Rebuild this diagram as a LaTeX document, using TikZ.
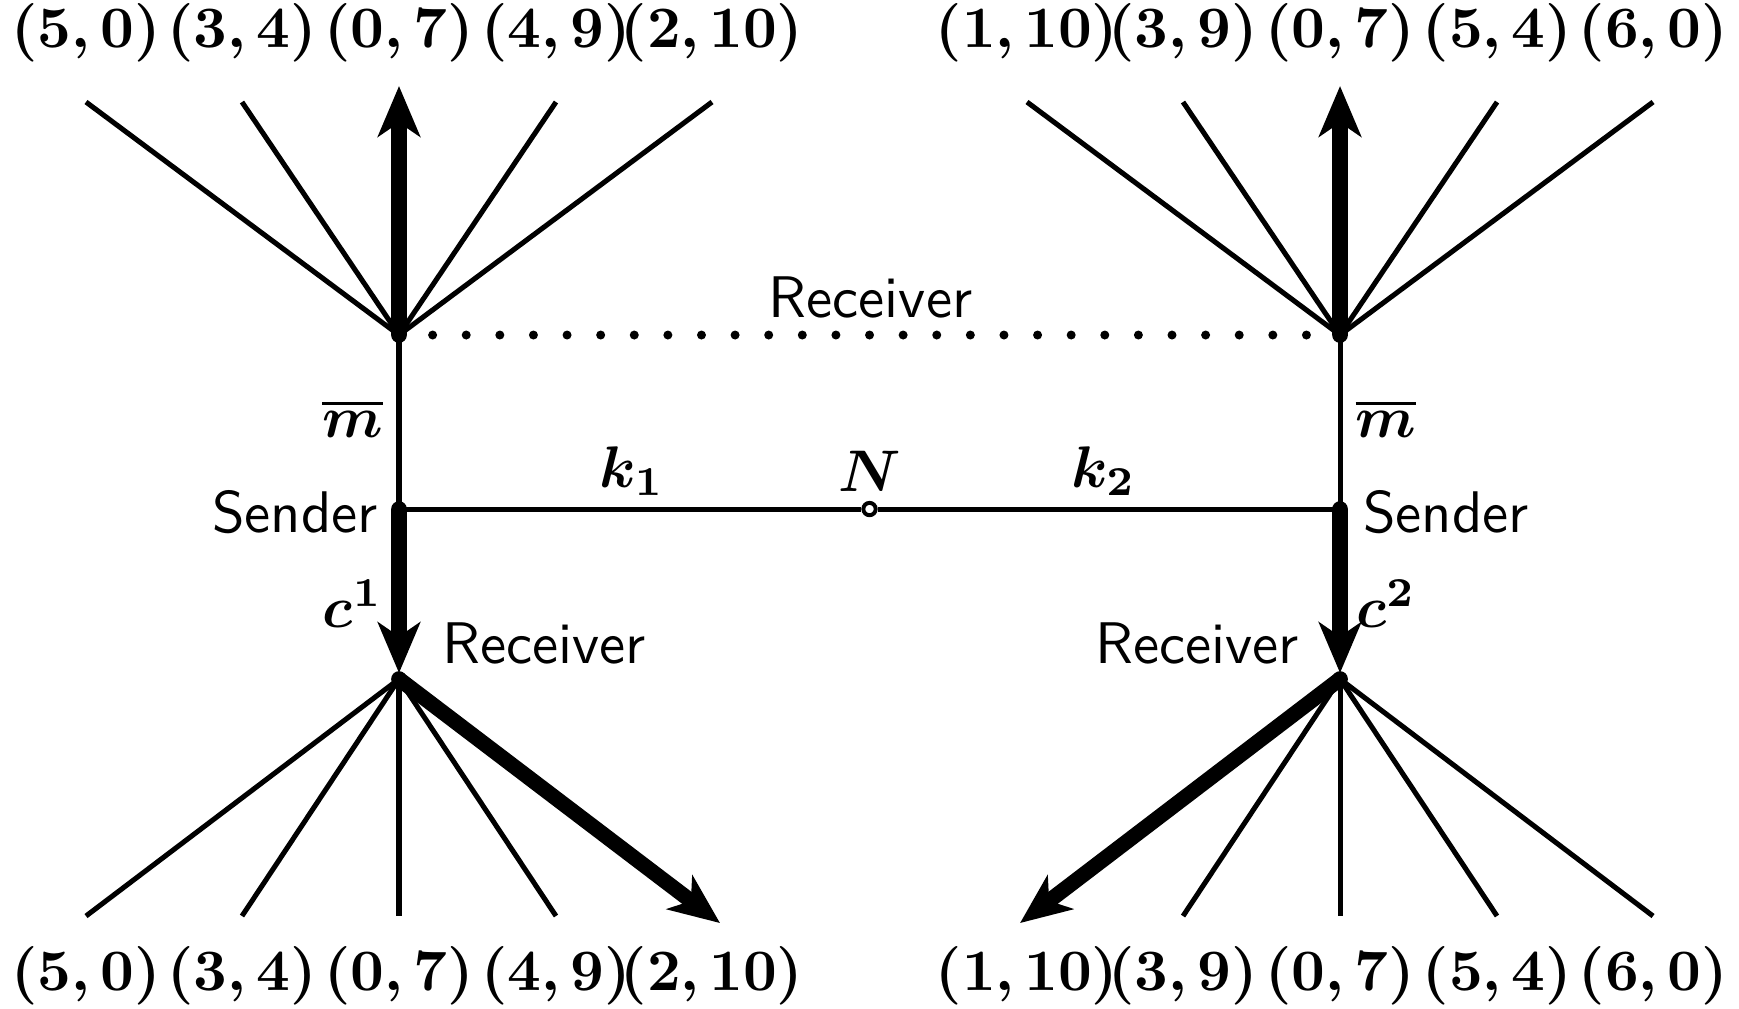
\documentclass[tikz,border=0pt]{standalone}
\usepackage{amsmath,bm}
\usetikzlibrary{arrows.meta,calc}
\begin{document}
\begin{tikzpicture}[x=0.178pt,y=-0.178pt,
  br/.style={line width=0.9pt},
  hv/.style={line width=2.7pt,-{Stealth[length=9pt,width=7.5pt,inset=2.5pt]}},
  slab/.style={inner sep=0pt,font=\sffamily,scale=1.045},
  mlab/.style={inner sep=0pt,scale=1.045},
  nodedot/.style={circle,fill=black,inner sep=0pt,minimum size=2.8pt},
  dotline/.style={line width=1.6pt,line cap=round,dash pattern=on 0pt off 5.982pt}]
\useasboundingbox (0,0) rectangle (1739,1008);
% main points
\coordinate (TL) at (399,335);
\coordinate (SL) at (399,509);
\coordinate (BL) at (399,679);
\coordinate (TR) at (1340,335);
\coordinate (SR) at (1340,509);
\coordinate (BR) at (1340,679);
% fan end points
\foreach \n/\dx in {1/-313,2/-157,3/0,4/157,5/313}{
  \coordinate (tl\n) at ({399+\dx},102);
  \coordinate (bl\n) at ({399+\dx},916);
  \coordinate (tr\n) at ({1340+\dx},102);
  \coordinate (br\n) at ({1340+\dx},916);
}
\coordinate (tlA) at (399,86);
\coordinate (trA) at (1340,86);
\coordinate (blA) at (720,923);
\coordinate (brA) at (1020,923);
\coordinate (slA) at (399,673);
\coordinate (srA) at (1340,673);
% labels top
\foreach \n/\t in {1/{(5,0)},2/{(3,4)},3/{(0,7)},4/{(4,9)},5/{(2,10)}}{
  \node[mlab] (ltl\n) at ($(tl\n)+(0,-69)$) {$\boldsymbol{\t}$};
  \node[mlab] (lbl\n) at ($(bl\n)+(0,60)$) {$\boldsymbol{\t}$};
}
\foreach \n/\t in {1/{(1,10)},2/{(3,9)},3/{(0,7)},4/{(5,4)},5/{(6,0)}}{
  \node[mlab] (ltr\n) at ($(tr\n)+(0,-69)$) {$\boldsymbol{\t}$};
  \node[mlab] (lbr\n) at ($(br\n)+(0,60)$) {$\boldsymbol{\t}$};
}
% fans
\foreach \n in {1,2,4,5}{
  \draw[br] (TL) -- (tl\n);
  \draw[br] (TR) -- (tr\n);
}
\foreach \n in {1,2,3,4}{\draw[br] (BL) -- (bl\n);}
\foreach \n in {2,3,4,5}{\draw[br] (BR) -- (br\n);}
\draw[hv] (TL) -- (tlA);
\draw[hv] (TR) -- (trA);
\draw[hv] (BL) -- (blA);
\draw[hv] (BR) -- (brA);
% trunks
\draw[br] (TL) -- (SL);
\draw[br] (TR) -- (SR);
\draw[hv] (SL) -- (slA);
\draw[hv] (SR) -- (srA);
\draw[dotline] (TL) -- (TR);
\node[circle,draw,fill=white,line width=0.7pt,inner sep=0pt,minimum size=2.2pt] (N) at (869.5,509) {};
\draw[br] (SL) -- (N);
\draw[br] (N) -- (SR);
% dots
\foreach \p in {TL,SL,BL,TR,SR,BR}{\node[nodedot] at (\p) {};}
% text labels
\node[slab] (rtop) at (870.5,297) {Receiver};
\node[slab,anchor=east] (sl) at (379,512) {Sender};
\node[slab,anchor=west] (sr) at (1362,512) {Sender};
\node[slab,anchor=west] (rbl) at (441,643) {Receiver};
\node[slab,anchor=east] (rbr) at (1300,643) {Receiver};
\node[mlab] (m1) at (352.7,419) {$\boldsymbol{\overline{m}}$};
\node[mlab] (m2) at (1386,419) {$\boldsymbol{\overline{m}}$};
\node[mlab] (k1) at (632,471) {$\boldsymbol{k_1}$};
\node[mlab] (k2) at (1103.5,471) {$\boldsymbol{k_2}$};
\node[mlab] (Nl) at (869.5,471) {$\boldsymbol{N}$};
\node[mlab] (c1) at (352.7,604) {$\boldsymbol{c^1}$};
\node[mlab] (c2) at (1386,604) {$\boldsymbol{c^2}$};
\end{tikzpicture}
\end{document}
